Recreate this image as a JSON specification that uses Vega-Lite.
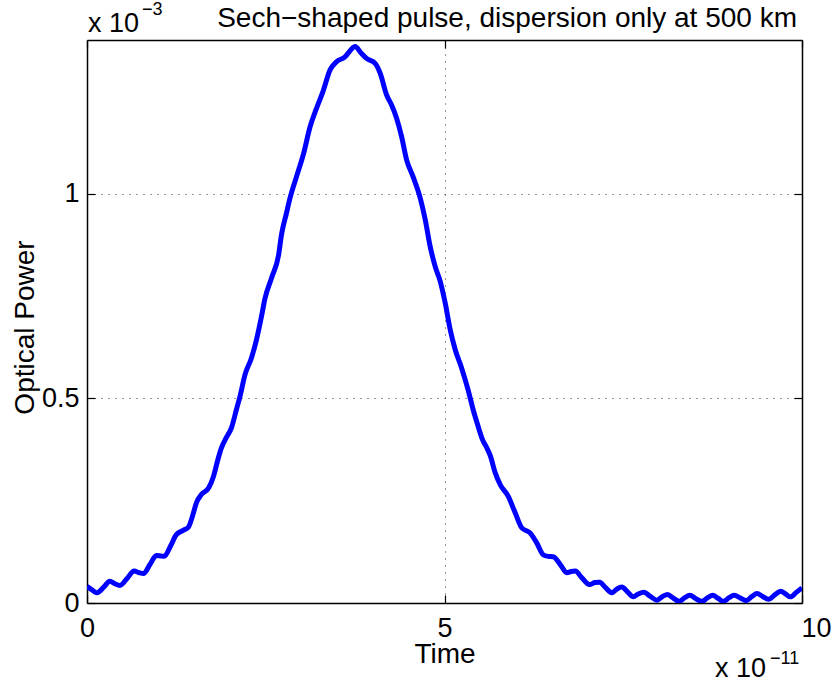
{
  "$schema": "https://vega.github.io/schema/vega-lite/v6.json",
  "width": 715,
  "height": 563,
  "autosize": {"type": "none"},
  "padding": {"left": 87, "top": 40, "right": 32, "bottom": 82},
  "background": "white",
  "config": {
    "view": {"stroke": null},
    "font": "Liberation Sans",
    "axis": {
      "labelFont": "Liberation Sans",
      "titleFont": "Liberation Sans",
      "labelFontSize": 27,
      "titleFontSize": 28,
      "titleFontWeight": "normal",
      "labelColor": "black",
      "titleColor": "black",
      "domainColor": "black",
      "domainWidth": 1.5,
      "tickColor": "black",
      "tickWidth": 1.2,
      "gridColor": "#333333",
      "gridWidth": 1,
      "gridDash": [1, 6]
    }
  },
  "data": {
    "values": [
      {"t": 0.00, "p": 0.041}, {"t": 0.07, "p": 0.032}, {"t": 0.14, "p": 0.025}, {"t": 0.23, "p": 0.038},
      {"t": 0.32, "p": 0.053}, {"t": 0.39, "p": 0.047}, {"t": 0.46, "p": 0.043}, {"t": 0.56, "p": 0.060},
      {"t": 0.66, "p": 0.078}, {"t": 0.73, "p": 0.074}, {"t": 0.79, "p": 0.072}, {"t": 0.88, "p": 0.094},
      {"t": 0.97, "p": 0.116}, {"t": 1.03, "p": 0.115}, {"t": 1.08, "p": 0.114}, {"t": 1.17, "p": 0.140},
      {"t": 1.25, "p": 0.167}, {"t": 1.35, "p": 0.178}, {"t": 1.42, "p": 0.186}, {"t": 1.48, "p": 0.215},
      {"t": 1.53, "p": 0.245}, {"t": 1.60, "p": 0.265}, {"t": 1.70, "p": 0.281}, {"t": 1.77, "p": 0.310},
      {"t": 1.83, "p": 0.350}, {"t": 1.88, "p": 0.379}, {"t": 1.95, "p": 0.405}, {"t": 2.02, "p": 0.428},
      {"t": 2.09, "p": 0.473}, {"t": 2.14, "p": 0.505}, {"t": 2.21, "p": 0.558}, {"t": 2.30, "p": 0.599},
      {"t": 2.37, "p": 0.643}, {"t": 2.44, "p": 0.700}, {"t": 2.49, "p": 0.745}, {"t": 2.58, "p": 0.794},
      {"t": 2.68, "p": 0.851}, {"t": 2.72, "p": 0.900}, {"t": 2.79, "p": 0.953}, {"t": 2.84, "p": 0.990},
      {"t": 2.93, "p": 1.042}, {"t": 3.03, "p": 1.099}, {"t": 3.12, "p": 1.164}, {"t": 3.21, "p": 1.209},
      {"t": 3.30, "p": 1.250}, {"t": 3.40, "p": 1.303}, {"t": 3.49, "p": 1.323}, {"t": 3.61, "p": 1.335},
      {"t": 3.68, "p": 1.350}, {"t": 3.75, "p": 1.360}, {"t": 3.83, "p": 1.345}, {"t": 3.91, "p": 1.331},
      {"t": 4.03, "p": 1.319}, {"t": 4.10, "p": 1.295}, {"t": 4.19, "p": 1.242}, {"t": 4.26, "p": 1.217},
      {"t": 4.33, "p": 1.185}, {"t": 4.40, "p": 1.140}, {"t": 4.47, "p": 1.083}, {"t": 4.56, "p": 1.042},
      {"t": 4.66, "p": 0.990}, {"t": 4.73, "p": 0.937}, {"t": 4.80, "p": 0.871}, {"t": 4.87, "p": 0.822},
      {"t": 4.94, "p": 0.786}, {"t": 5.01, "p": 0.733}, {"t": 5.08, "p": 0.668}, {"t": 5.15, "p": 0.619},
      {"t": 5.24, "p": 0.574}, {"t": 5.33, "p": 0.521}, {"t": 5.40, "p": 0.473}, {"t": 5.47, "p": 0.432},
      {"t": 5.53, "p": 0.400}, {"t": 5.59, "p": 0.380}, {"t": 5.64, "p": 0.360}, {"t": 5.71, "p": 0.318},
      {"t": 5.78, "p": 0.289}, {"t": 5.89, "p": 0.261}, {"t": 5.99, "p": 0.220}, {"t": 6.08, "p": 0.184},
      {"t": 6.20, "p": 0.171}, {"t": 6.29, "p": 0.147}, {"t": 6.38, "p": 0.118}, {"t": 6.45, "p": 0.114},
      {"t": 6.52, "p": 0.113}, {"t": 6.62, "p": 0.094}, {"t": 6.71, "p": 0.074}, {"t": 6.77, "p": 0.077},
      {"t": 6.83, "p": 0.078}, {"t": 6.92, "p": 0.062}, {"t": 7.03, "p": 0.045}, {"t": 7.10, "p": 0.050},
      {"t": 7.17, "p": 0.051}, {"t": 7.25, "p": 0.038}, {"t": 7.34, "p": 0.025}, {"t": 7.41, "p": 0.034},
      {"t": 7.48, "p": 0.039}, {"t": 7.56, "p": 0.027}, {"t": 7.64, "p": 0.015}, {"t": 7.71, "p": 0.022},
      {"t": 7.79, "p": 0.026}, {"t": 7.88, "p": 0.016}, {"t": 7.97, "p": 0.007}, {"t": 8.05, "p": 0.016},
      {"t": 8.12, "p": 0.021}, {"t": 8.20, "p": 0.012}, {"t": 8.28, "p": 0.004}, {"t": 8.36, "p": 0.013},
      {"t": 8.43, "p": 0.019}, {"t": 8.51, "p": 0.011}, {"t": 8.60, "p": 0.004}, {"t": 8.68, "p": 0.013},
      {"t": 8.75, "p": 0.019}, {"t": 8.83, "p": 0.011}, {"t": 8.90, "p": 0.004}, {"t": 8.98, "p": 0.013},
      {"t": 9.05, "p": 0.019}, {"t": 9.14, "p": 0.012}, {"t": 9.22, "p": 0.006}, {"t": 9.30, "p": 0.016},
      {"t": 9.37, "p": 0.023}, {"t": 9.45, "p": 0.016}, {"t": 9.53, "p": 0.009}, {"t": 9.62, "p": 0.020},
      {"t": 9.70, "p": 0.029}, {"t": 9.77, "p": 0.022}, {"t": 9.84, "p": 0.015}, {"t": 9.92, "p": 0.026},
      {"t": 10.00, "p": 0.037}
    ]
  },
  "resolve": {"axis": {"x": "independent", "y": "independent"}},
  "layer": [
    {
      "mark": {"type": "line", "color": "#0000ff", "strokeWidth": 5, "interpolate": "monotone", "clip": true},
      "encoding": {
        "x": {
          "field": "t", "type": "quantitative",
          "scale": {"domain": [0, 10], "nice": false, "zero": false},
          "axis": {
            "orient": "bottom", "values": [0, 5, 10], "title": "Time", "format": "d",
            "tickSize": -8, "labelPadding": 20, "labelBaseline": "top", "labelAlign": "center",
            "labelOffset": {"condition": {"test": "datum.value == 10", "value": 14}, "value": 0},
            "labelFlush": false, "labelOverlap": false,
            "titleBaseline": "alphabetic", "titleY": 59, "titleAnchor": "middle",
            "grid": true
          }
        },
        "y": {
          "field": "p", "type": "quantitative",
          "scale": {"domain": [0, 1.376], "nice": false, "zero": false},
          "axis": {
            "orient": "left", "values": [0, 0.5, 1], "title": "Optical Power", "format": "~g",
            "tickSize": -8, "labelPadding": 16, "labelAlign": "right", "labelBaseline": "middle",
            "labelFlush": false, "labelOverlap": false,
            "titleAngle": -90, "titleBaseline": "alphabetic", "titleAlign": "center",
            "titleX": -54, "titleY": 287,
            "grid": true
          }
        }
      }
    },
    {
      "mark": {"type": "line", "opacity": 0},
      "encoding": {
        "x": {
          "field": "t", "type": "quantitative",
          "axis": {"orient": "top", "values": [0, 5, 10], "title": null, "labels": false, "tickSize": -8, "grid": false}
        },
        "y": {
          "field": "p", "type": "quantitative",
          "axis": {"orient": "right", "values": [0, 0.5, 1], "title": null, "labels": false, "tickSize": -8, "grid": false}
        }
      }
    },
    {
      "data": {"values": [{"label": "Sech−shaped pulse, dispersion only at 500 km"}]},
      "mark": {"type": "text", "align": "right", "baseline": "alphabetic", "fontSize": 28, "font": "Liberation Sans", "color": "black", "dx": -5, "dy": -13},
      "encoding": {
        "text": {"field": "label"},
        "x": {"datum": 10, "type": "quantitative", "axis": null},
        "y": {"datum": 1.376, "type": "quantitative", "axis": null}
      }
    },
    {
      "data": {"values": [{"label": "x 10"}]},
      "mark": {"type": "text", "align": "left", "baseline": "alphabetic", "fontSize": 27, "font": "Liberation Sans", "color": "black", "dx": 1, "dy": -8},
      "encoding": {
        "text": {"field": "label"},
        "x": {"datum": 0, "type": "quantitative", "axis": null},
        "y": {"datum": 1.376, "type": "quantitative", "axis": null}
      }
    },
    {
      "data": {"values": [{"label": "−3"}]},
      "mark": {"type": "text", "align": "left", "baseline": "alphabetic", "fontSize": 18, "font": "Liberation Sans", "color": "black", "dx": 55, "dy": -25},
      "encoding": {
        "text": {"field": "label"},
        "x": {"datum": 0, "type": "quantitative", "axis": null},
        "y": {"datum": 1.376, "type": "quantitative", "axis": null}
      }
    },
    {
      "data": {"values": [{"label": "x 10"}]},
      "mark": {"type": "text", "align": "left", "baseline": "alphabetic", "fontSize": 27, "font": "Liberation Sans", "color": "black", "dx": -87, "dy": 74},
      "encoding": {
        "text": {"field": "label"},
        "x": {"datum": 10, "type": "quantitative", "axis": null},
        "y": {"datum": 0, "type": "quantitative", "axis": null}
      }
    },
    {
      "data": {"values": [{"label": "−11"}]},
      "mark": {"type": "text", "align": "left", "baseline": "alphabetic", "fontSize": 18, "font": "Liberation Sans", "color": "black", "dx": -32, "dy": 61},
      "encoding": {
        "text": {"field": "label"},
        "x": {"datum": 10, "type": "quantitative", "axis": null},
        "y": {"datum": 0, "type": "quantitative", "axis": null}
      }
    }
  ]
}
